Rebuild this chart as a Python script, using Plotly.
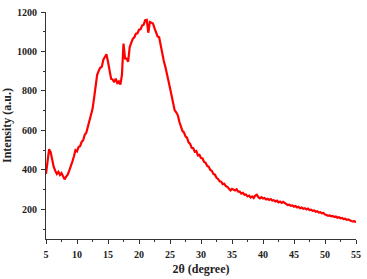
import plotly.graph_objects as go

two_theta = [
    5.00, 5.25, 5.50, 5.75, 6.00, 6.25, 6.50, 6.75, 7.00, 7.25, 7.50, 7.75,
    8.00, 8.25, 8.50, 8.75, 9.00, 9.25, 9.50, 9.75, 10.00, 10.25, 10.50, 10.75,
    11.00, 11.25, 11.50, 11.75, 12.00, 12.25, 12.50, 12.75, 13.00, 13.25, 13.50, 13.75,
    14.00, 14.25, 14.50, 14.75, 15.00, 15.25, 15.50, 15.75, 16.00, 16.25, 16.50, 16.75,
    17.00, 17.25, 17.50, 17.75, 18.00, 18.25, 18.50, 18.75, 19.00, 19.25, 19.50, 19.75,
    20.00, 20.25, 20.50, 20.75, 21.00, 21.25, 21.50, 21.75, 22.00, 22.25, 22.50, 22.75,
    23.00, 23.25, 23.50, 23.75, 24.00, 24.25, 24.50, 24.75, 25.00, 25.25, 25.50, 25.75,
    26.00, 26.25, 26.50, 26.75, 27.00, 27.25, 27.50, 27.75, 28.00, 28.25, 28.50, 28.75,
    29.00, 29.25, 29.50, 29.75, 30.00, 30.25, 30.50, 30.75, 31.00, 31.25, 31.50, 31.75,
    32.00, 32.25, 32.50, 32.75, 33.00, 33.25, 33.50, 33.75, 34.00, 34.25, 34.50, 34.75,
    35.00, 35.25, 35.50, 35.75, 36.00, 36.25, 36.50, 36.75, 37.00, 37.25, 37.50, 37.75,
    38.00, 38.25, 38.50, 38.75, 39.00, 39.25, 39.50, 39.75, 40.00, 40.25, 40.50, 40.75,
    41.00, 41.25, 41.50, 41.75, 42.00, 42.25, 42.50, 42.75, 43.00, 43.25, 43.50, 43.75,
    44.00, 44.25, 44.50, 44.75, 45.00, 45.25, 45.50, 45.75, 46.00, 46.25, 46.50, 46.75,
    47.00, 47.25, 47.50, 47.75, 48.00, 48.25, 48.50, 48.75, 49.00, 49.25, 49.50, 49.75,
    50.00, 50.25, 50.50, 50.75, 51.00, 51.25, 51.50, 51.75, 52.00, 52.25, 52.50, 52.75,
    53.00, 53.25, 53.50, 53.75, 54.00, 54.25, 54.50, 54.75, 55.00,
]

intensity = [
    380, 450, 505, 490, 450, 415, 395, 380, 390, 374, 384, 366,
    352, 366, 376, 396, 416, 442, 468, 500, 494, 516, 520, 542,
    550, 578, 588, 622, 648, 675, 708, 762, 828, 882, 902, 918,
    922, 958, 972, 986, 948, 902, 862, 858, 845, 862, 840, 848,
    832, 882, 1040, 965, 964, 948, 1022, 1044, 1064, 1072, 1090, 1092,
    1110, 1112, 1132, 1136, 1158, 1160, 1095, 1150, 1146, 1142, 1118, 1092,
    1076, 1072, 1028, 982, 952, 922, 878, 852, 815, 782, 748, 702,
    692, 678, 645, 620, 598, 590, 570, 562, 540, 532, 512, 510,
    492, 496, 474, 476, 460, 458, 440, 436, 420, 416, 400, 396,
    380, 376, 360, 354, 342, 340, 328, 330, 318, 314, 302, 296,
    304, 300, 296, 302, 290, 290, 280, 284, 274, 276, 266, 270,
    260, 266, 258, 270, 274, 262, 256, 262, 255, 258, 250, 254,
    248, 252, 245, 247, 240, 244, 236, 240, 233, 238, 232, 226,
    222, 224, 218, 220, 214, 217, 210, 213, 206, 209, 203, 206,
    200, 204, 197, 199, 193, 195, 188, 191, 184, 186, 180, 182,
    174, 172, 168, 170, 165, 167, 161, 164, 158, 160, 155, 157,
    151, 153, 147, 149, 144, 141, 139, 140, 134,
]

x_ticks = [5, 10, 15, 20, 25, 30, 35, 40, 45, 50, 55]
y_ticks = [200, 400, 600, 800, 1000, 1200]

fig = go.Figure()
fig.add_trace(go.Scatter(
    x=two_theta, y=intensity, mode="lines",
    line=dict(color="#ff0000", width=2.2),
    showlegend=False,
))

tick_font = dict(family="Liberation Serif", size=10, color="#222222", weight="bold")
title_font = dict(family="Liberation Serif", size=12, color="#222222", weight="bold")

fig.update_xaxes(
    range=[5, 55], tickvals=x_ticks, ticks="outside", ticklen=4, tickwidth=1,
    tickcolor="#333333", showline=True, linecolor="#333333", linewidth=1,
    showgrid=False, zeroline=False, tickfont=tick_font, ticklabelstandoff=2,
    minor=dict(ticks="outside", dtick=2.5, tick0=5, ticklen=2, tickcolor="#333333"),
    title=dict(text="2θ (degree)", font=title_font, standoff=5),
)
fig.update_yaxes(
    range=[50, 1200], tickvals=y_ticks, ticks="outside", ticklen=4, tickwidth=1,
    tickcolor="#333333", showline=True, linecolor="#333333", linewidth=1,
    showgrid=False, zeroline=False, tickfont=tick_font, ticklabelstandoff=2,
    minor=dict(ticks="outside", dtick=100, tick0=0, ticklen=2, tickcolor="#333333"),
    title=dict(text="Intensity (a.u.)", font=title_font, standoff=3),
)

fig.update_layout(
    width=367, height=279,
    margin=dict(l=45, r=6, t=9, b=37),
    plot_bgcolor="white", paper_bgcolor="white",
)

fig.write_html("out.html")
